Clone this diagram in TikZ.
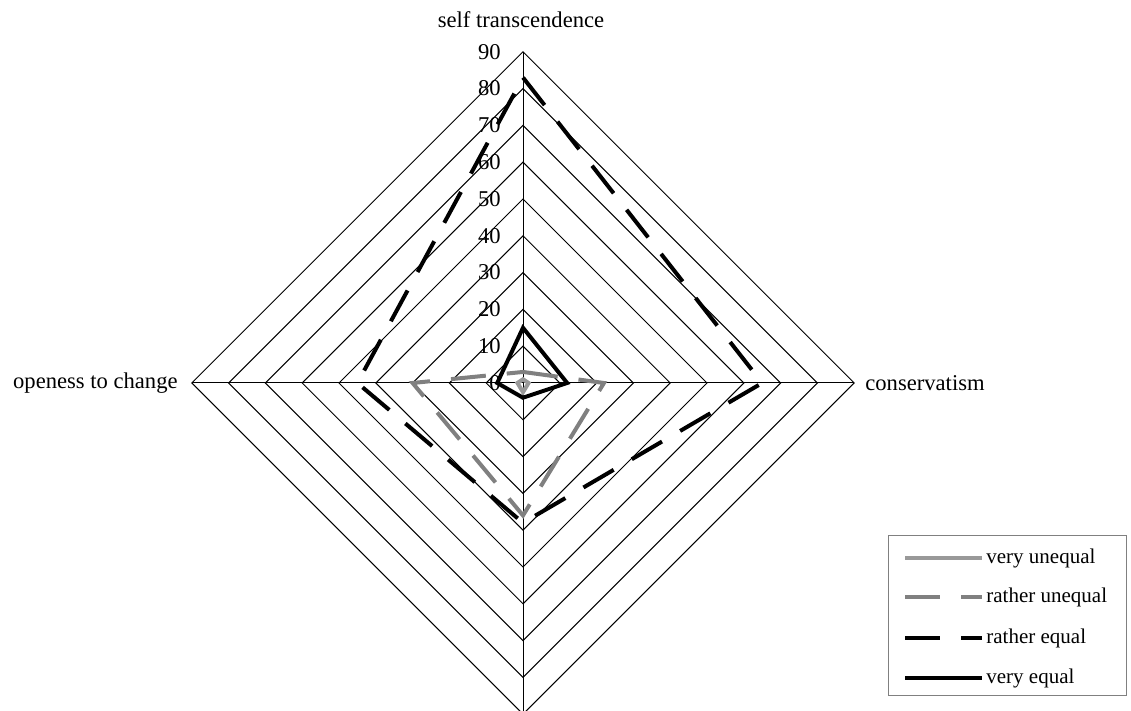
\documentclass[tikz,border=0pt]{standalone}
\usepackage{fontspec}
\setmainfont{Liberation Serif}

\tikzset{
	ring/.style = {line width=.5pt},
	veryunequal/.style = {black!40, line width=2pt},
	ratherunequal/.style = {black!50, line width=2pt, dash pattern=on 17.5pt off 10.5pt},
	ratherequal/.style = {black, line width=2pt, dash pattern=on 17.5pt off 10.5pt},
	veryequal/.style = {black, line width=2pt},
	legendtext/.style = {anchor=west, inner sep=0pt, font=\fontsize{10.5}{12}\selectfont}
}

\newcommand{\webgrid}{
	%rings and axes
	\foreach \r in {10,20,...,90}
		\draw[ring] (0,\r) -- (\r,0) -- (0,-\r) -- (-\r,0) -- cycle;
	\draw[ring] (0,90) -- (0,-90);
	\draw[ring] (-90,0) -- (90,0);
	\foreach \r in {0,10,...,90}
		\node[anchor=east, inner sep=0pt] (tick\r) at ([xshift=-11pt]0,\r) {\r};
}

\begin{document}
\begin{tikzpicture}[x=.5pt, y=.5pt, every node/.style={font=\fontsize{11.3}{13}\selectfont}]
	\useasboundingbox (0,0) rectangle (1131,711);
	\begin{scope}[shift={(261.5pt,164pt)}, x=1.84pt, y=1.84pt]
		\webgrid
		\draw[veryunequal] (0,1) -- (1.5,0) -- (0,-2.5) -- (-1.5,0) -- cycle;
		\draw[ratherunequal] (0,3) -- (22,0) -- (0,-36) -- (-30,0) -- cycle;
		\draw[ratherequal] (0,83) -- (65,0) -- (0,-38) -- (-45,0) -- cycle;
		\draw[veryequal] (0,15) -- (12,0) -- (0,-4) -- (-7,0) -- cycle;
	\end{scope}
	\node (st) at (521,691) {self transcendence};
	\node[anchor=west, inner sep=0pt] (cons) at (865,328) {conservatism};
	\node[anchor=east, inner sep=0pt] (open) at (178,328) {openess to change};
	%legend
	\draw[gray, line width=.5pt] (888,15) rectangle (1126,175);
	\draw[veryunequal] (905,153) -- (982,153);
	\node[legendtext] (lvu) at (986,153) {very unequal};
	\draw[ratherunequal] (905,114) -- (982,114);
	\node[legendtext] (lru) at (986,114) {rather unequal};
	\draw[ratherequal] (905,73) -- (982,73);
	\node[legendtext] (lre) at (986,73) {rather equal};
	\draw[veryequal] (905,33) -- (982,33);
	\node[legendtext] (lve) at (986,33) {very equal};
\end{tikzpicture}
\end{document}
